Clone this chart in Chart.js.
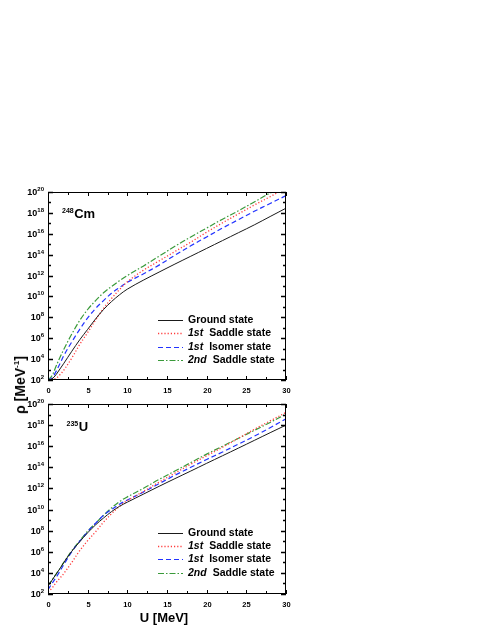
<!DOCTYPE html>
<html>
<head>
<meta charset="utf-8">
<script src="https://cdn.jsdelivr.net/npm/chart.js@4.4.0/dist/chart.umd.min.js"></script>
<style>
    html, body { margin: 0; padding: 0; background: #fff; }
    body { width: 491px; height: 635px; position: relative; overflow: hidden; font-family: 'Liberation Sans', Arial, sans-serif; }
    canvas { position: absolute; left: 0; }
    #cmChart { top: 180px; }
    #uChart { top: 392px; }
    .ytitle { position: absolute; left: 20px; top: 385px; transform: translate(-50%, -50%) rotate(-90deg); font-weight: bold; font-size: 14px; white-space: nowrap; }
    .ytitle sup { font-size: 8px; }
    .xtitle { position: absolute; left: 164px; top: 617px; transform: translate(-50%, -50%); font-weight: bold; font-size: 13px; white-space: nowrap; }
</style>
</head>
<body>
<canvas id="cmChart" width="300" height="222"></canvas>
<canvas id="uChart" width="300" height="222"></canvas>
<div class="ytitle">&rho; [MeV<sup>-1</sup>]</div>
<div class="xtitle">U [MeV]</div>
<script>
// excitation energy U [MeV]
const energies = [0, 0.5, 1, 1.5, 2, 3, 4, 5, 6, 7, 8, 9, 10, 12, 14, 16, 18, 20, 22, 24, 26, 28, 30];

// log10(rho), 248Cm
const cmGround  = [2.0, 2.1, 2.5, 3.05, 3.6, 4.75, 5.85, 6.85, 7.85, 8.75, 9.5, 10.15, 10.7, 11.55, 12.33, 13.1, 13.85, 14.6, 15.35, 16.1, 16.85, 17.65, 18.45];
const cmSaddle1 = [2.0, 2.05, 2.16, 2.5, 2.95, 4.1, 5.4, 6.55, 7.75, 8.85, 9.8, 10.65, 11.4, 12.5, 13.4, 14.3, 15.2, 16.15, 17.05, 17.9, 18.75, 19.55, 20.4];
const cmIsomer1 = [2.0, 2.2, 2.8, 3.55, 4.35, 5.65, 6.85, 7.95, 8.85, 9.6, 10.3, 10.85, 11.35, 12.15, 13.0, 13.95, 14.85, 15.7, 16.55, 17.35, 18.15, 18.9, 19.65];
const cmSaddle2 = [2.0, 2.4, 3.3, 4.15, 4.95, 6.4, 7.7, 8.75, 9.6, 10.35, 10.95, 11.5, 12.0, 12.9, 13.85, 14.8, 15.7, 16.55, 17.4, 18.2, 19.05, 19.9, 20.6];

// log10(rho), 235U
const uGround  = [2.8, 3.3, 3.86, 4.4, 5.0, 6.05, 6.95, 7.8, 8.55, 9.2, 9.8, 10.3, 10.7, 11.45, 12.2, 12.93, 13.65, 14.38, 15.1, 15.82, 16.55, 17.28, 18.0];
const uSaddle1 = [2.2, 2.55, 3.07, 3.5, 3.95, 5.0, 6.1, 7.05, 7.9, 8.8, 9.6, 10.3, 10.85, 11.7, 12.6, 13.45, 14.3, 15.1, 15.9, 16.75, 17.6, 18.4, 19.2];
const uIsomer1 = [2.4, 3.0, 3.55, 4.15, 4.8, 6.0, 7.0, 7.9, 8.7, 9.45, 10.0, 10.5, 10.9, 11.65, 12.45, 13.25, 14.0, 14.75, 15.45, 16.2, 16.95, 17.75, 18.6];
const uSaddle2 = [2.8, 3.3, 3.86, 4.4, 5.0, 6.1, 7.05, 7.95, 8.7, 9.45, 10.15, 10.75, 11.2, 12.0, 12.85, 13.65, 14.45, 15.25, 16.0, 16.75, 17.5, 18.25, 19.05];

// axes
const xTickValues = [0, 2.5, 5, 7.5, 10, 12.5, 15, 17.5, 20, 22.5, 25, 27.5, 30];
const yTickExps = [2, 3, 4, 5, 6, 7, 8, 9, 10, 11, 12, 13, 14, 15, 16, 17, 18, 19, 20];

// legend
const legendTags = ['', '1st', '1st', '2nd'];
const legendNames = ['Ground state', 'Saddle state', 'Isomer state', 'Saddle state'];

const LINE_STYLES = [
    { borderColor: '#1a1a1a', borderDash: [], borderWidth: 1 },
    { borderColor: '#ff3b3b', borderDash: [1.2, 2], borderWidth: 1.3 },
    { borderColor: '#2233ff', borderDash: [5, 3], borderWidth: 1.2 },
    { borderColor: '#3a9a3a', borderDash: [6, 2, 1.5, 2], borderWidth: 1.2 }
];

const FONT = "'Liberation Sans', Arial, sans-serif";

function toPoints(logs) {
    return energies.map((e, i) => ({ x: e, y: Math.pow(10, logs[i]) }));
}

function makeDatasets(series) {
    return series.map((s, i) => ({
        label: legendNames[i],
        data: toPoints(s),
        ...LINE_STYLES[i],
        pointRadius: 0,
        fill: false,
        tension: 0.35
    }));
}

const framePlugin = {
    id: 'frame',
    afterDatasetsDraw(chart, args, opts) {
        const { ctx, chartArea: a, scales: { x, y } } = chart;
        ctx.save();
        ctx.strokeStyle = '#000';
        ctx.fillStyle = '#000';
        ctx.lineWidth = 1;
        ctx.setLineDash([]);
        ctx.strokeRect(Math.round(a.left) + 0.5, Math.round(a.top) + 0.5, Math.round(a.width) - 1, Math.round(a.height) - 1);

        // x ticks, inward on top and bottom
        ctx.font = 'bold 7.5px ' + FONT;
        ctx.textAlign = 'center';
        ctx.textBaseline = 'middle';
        x.ticks.forEach(t => {
            const px = Math.round(x.getPixelForValue(t.value)) + 0.5;
            const major = t.value % 5 === 0;
            const len = major ? 4 : 3;
            ctx.beginPath();
            ctx.moveTo(px, a.bottom); ctx.lineTo(px, a.bottom - len);
            ctx.moveTo(px, a.top); ctx.lineTo(px, a.top + len);
            ctx.stroke();
            if (major) ctx.fillText(String(t.value), px, a.bottom + 11);
        });

        // y ticks, inward on left and right
        y.ticks.forEach(t => {
            const exp = Math.round(Math.log10(t.value));
            const py = Math.round(y.getPixelForValue(t.value)) + 0.5;
            const major = exp % 2 === 0;
            const len = major ? 5 : 3;
            ctx.lineWidth = 1.5;
            ctx.beginPath();
            ctx.moveTo(a.left, py); ctx.lineTo(a.left + len, py);
            ctx.moveTo(a.right, py); ctx.lineTo(a.right - len, py);
            ctx.stroke();
            if (major) {
                ctx.textAlign = 'right';
                ctx.font = 'bold 6px ' + FONT;
                const ew = ctx.measureText(String(exp)).width;
                ctx.fillText(String(exp), a.left - 4, py - 3);
                ctx.font = 'bold 9px ' + FONT;
                ctx.fillText('10', a.left - 4 - ew, py);
            }
        });
        ctx.lineWidth = 1;

        // nucleus label
        ctx.textAlign = 'left';
        ctx.textBaseline = 'alphabetic';
        ctx.font = 'bold 7px ' + FONT;
        const mw = ctx.measureText(opts.mass).width;
        ctx.fillText(opts.mass, a.left + opts.labelX, a.top + opts.labelY - 5);
        ctx.font = 'bold 13px ' + FONT;
        ctx.fillText(opts.symbol, a.left + opts.labelX + mw + 0.5, a.top + opts.labelY);

        // legend
        chart.data.datasets.forEach((ds, i) => {
            const ly = Math.round(a.top + opts.legendTop + i * 13.3) + 0.5;
            ctx.strokeStyle = ds.borderColor;
            ctx.lineWidth = ds.borderWidth;
            ctx.setLineDash(ds.borderDash);
            ctx.beginPath();
            ctx.moveTo(a.left + 110, ly); ctx.lineTo(a.left + 135, ly);
            ctx.stroke();
            ctx.setLineDash([]);
            ctx.textBaseline = 'middle';
            let tx = a.left + 140;
            if (legendTags[i]) {
                ctx.font = 'italic bold 10.5px ' + FONT;
                ctx.fillText(legendTags[i], tx, ly);
                tx += ctx.measureText(legendTags[i]).width + 6;
            }
            ctx.font = 'bold 10.5px ' + FONT;
            ctx.fillText(ds.label, tx, ly);
        });
        ctx.restore();
    }
};

function makeChart(id, series, frameOpts) {
    const ctx = document.getElementById(id).getContext('2d');
    return new Chart(ctx, {
        type: 'line',
        data: { datasets: makeDatasets(series) },
        options: {
            responsive: false,
            animation: false,
            events: [],
            layout: { padding: frameOpts.padding },
            plugins: {
                legend: { display: false },
                tooltip: { enabled: false },
                frame: frameOpts
            },
            scales: {
                x: {
                    type: 'linear',
                    min: 0, max: 30,
                    ticks: { display: false },
                    grid: { display: false },
                    border: { display: false },
                    afterBuildTicks: s => { s.ticks = xTickValues.map(v => ({ value: v })); },
                    afterFit: s => { s.height = 0; }
                },
                y: {
                    type: 'logarithmic',
                    min: 1e2, max: 1e20,
                    ticks: { display: false },
                    grid: { display: false },
                    border: { display: false },
                    afterBuildTicks: s => { s.ticks = yTickExps.map(e => ({ value: Math.pow(10, e) })); },
                    afterFit: s => { s.width = 0; }
                }
            }
        },
        plugins: [framePlugin]
    });
}

makeChart('cmChart', [cmGround, cmSaddle1, cmIsomer1, cmSaddle2], {
    padding: { left: 48, right: 14, top: 12, bottom: 22 },
    mass: '248', symbol: 'Cm', labelX: 14, labelY: 26, legendTop: 128
});

makeChart('uChart', [uGround, uSaddle1, uIsomer1, uSaddle2], {
    padding: { left: 48, right: 14, top: 12, bottom: 20 },
    mass: '235', symbol: 'U', labelX: 18.5, labelY: 27, legendTop: 128.7
});
</script>
</body>
</html>
